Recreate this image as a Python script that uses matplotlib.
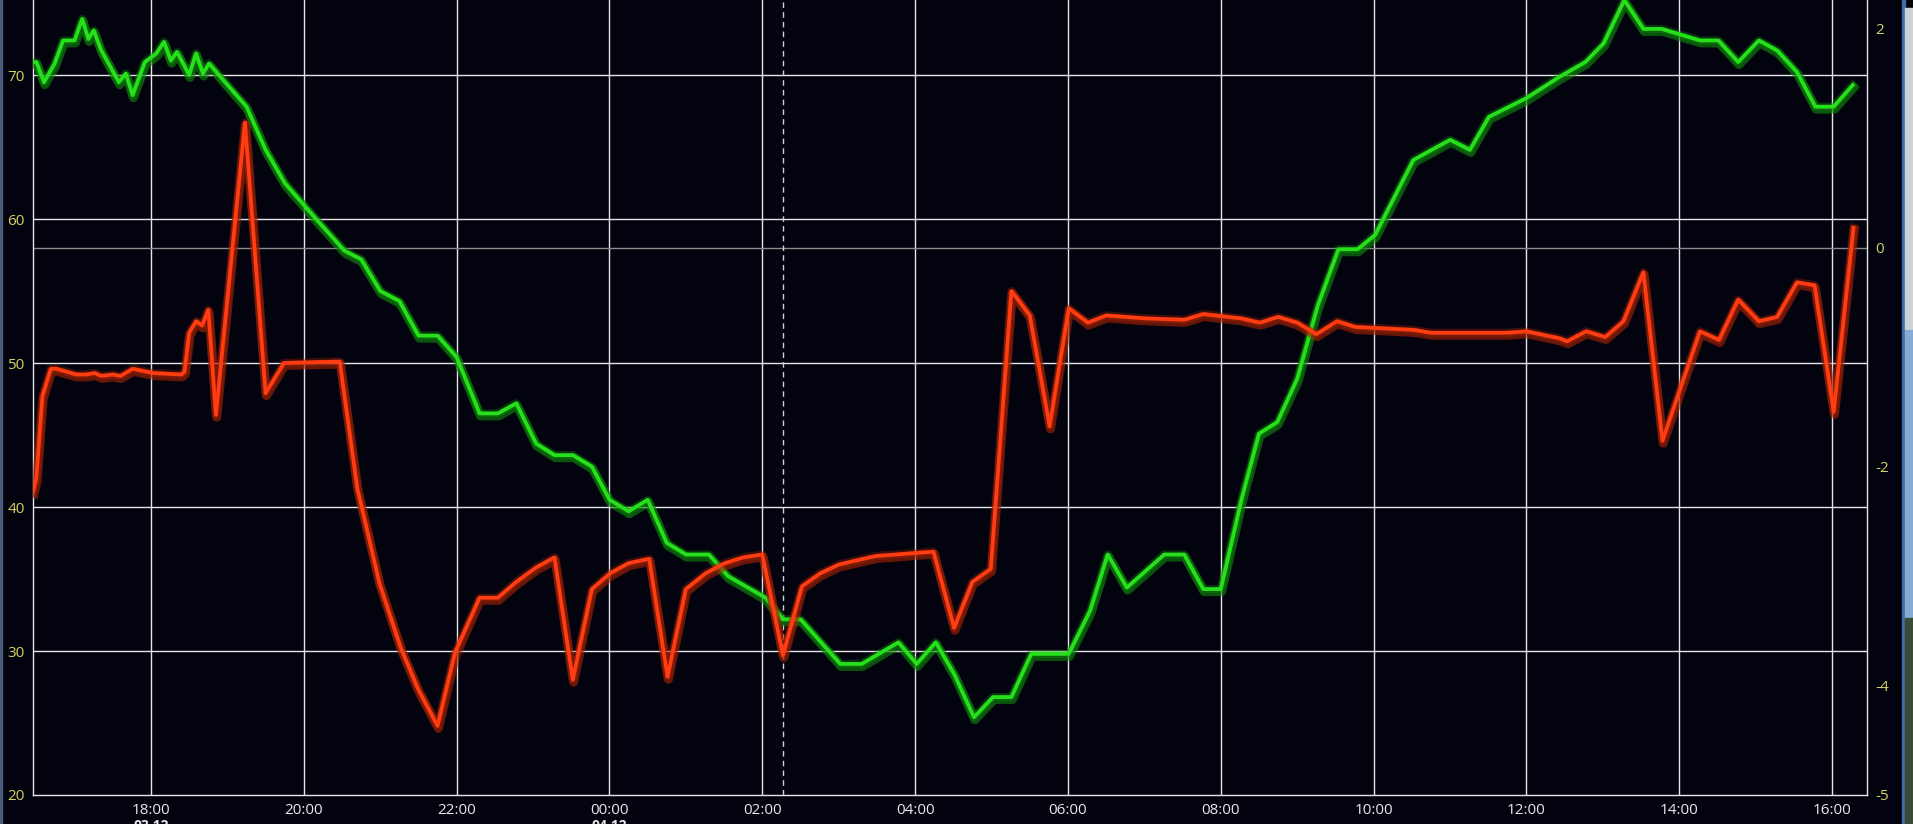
import matplotlib
matplotlib.use("Agg")
import matplotlib.pyplot as plt
import matplotlib.patheffects as pe
from matplotlib.patches import Rectangle

# ---------------- data (hours since 00:00 on 03.12) ----------------
green_t = [16.46, 16.50, 16.60, 16.74, 16.85, 17.00, 17.10, 17.18, 17.25, 17.35,
           17.58, 17.67, 17.76, 17.92, 18.07, 18.17, 18.26, 18.34, 18.50, 18.59,
           18.68, 18.76, 18.92, 19.25, 19.50, 19.75, 20.16, 20.53, 20.75, 21.00,
           21.25, 21.50, 21.75, 22.00, 22.30, 22.54, 22.78, 23.04, 23.28, 23.52,
           23.77, 24.00, 24.25, 24.50, 24.75, 25.00, 25.30, 25.55, 26.04, 26.27,
           26.50, 27.02, 27.30, 27.78, 28.02, 28.27, 28.51, 28.77, 29.02, 29.26,
           29.52, 30.01, 30.29, 30.52, 30.77, 31.26, 31.52, 31.77, 32.00, 32.27,
           32.50, 32.74, 33.00, 33.27, 33.54, 33.79, 34.02, 34.52, 35.00, 35.26,
           35.51, 36.00, 36.44, 36.77, 37.01, 37.28, 37.53, 37.77, 38.27, 38.51,
           38.77, 39.04, 39.28, 39.54, 39.78, 40.02, 40.27]
green_v = [70.9, 70.9, 69.5, 70.8, 72.4, 72.4, 73.9, 72.5, 73.1, 71.7,
           69.5, 70.1, 68.6, 70.9, 71.5, 72.3, 71.0, 71.6, 70.0, 71.5,
           70.1, 70.8, 69.8, 67.8, 64.8, 62.5, 60.0, 57.8, 57.2, 55.0,
           54.3, 51.9, 51.9, 50.4, 46.5, 46.5, 47.2, 44.4, 43.6, 43.6,
           42.8, 40.5, 39.7, 40.5, 37.5, 36.7, 36.7, 35.2, 33.7, 32.2,
           32.2, 29.1, 29.1, 30.6, 29.1, 30.6, 28.4, 25.4, 26.8, 26.8,
           29.8, 29.8, 32.8, 36.7, 34.4, 36.7, 36.7, 34.3, 34.3, 40.5,
           45.1, 45.9, 48.9, 54.0, 57.9, 57.9, 58.9, 64.1, 65.5, 64.8,
           67.1, 68.4, 69.9, 70.9, 72.2, 75.2, 73.2, 73.2, 72.4, 72.4,
           70.9, 72.4, 71.7, 70.2, 67.8, 67.8, 69.3]

red_t = [16.46, 16.50, 16.58, 16.69, 16.76, 16.89, 17.02, 17.15, 17.26, 17.35,
         17.50, 17.60, 17.76, 18.03, 18.40, 18.44, 18.50, 18.59, 18.67, 18.75,
         18.85, 19.23, 19.50, 19.74, 20.47, 20.70, 20.99, 21.27, 21.50, 21.75,
         21.98, 22.30, 22.54, 22.78, 23.04, 23.28, 23.52, 23.77, 24.01, 24.25,
         24.52, 24.76, 25.00, 25.26, 25.51, 25.75, 26.00, 26.27, 26.52, 26.76,
         27.00, 27.24, 27.49, 27.75, 27.99, 28.24, 28.51, 28.75, 28.99, 29.26,
         29.50, 29.76, 30.01, 30.26, 30.50, 31.00, 31.52, 31.77, 32.26, 32.51,
         32.75, 33.00, 33.25, 33.52, 33.76, 34.52, 34.75, 35.26, 35.75, 36.00,
         36.44, 36.53, 36.78, 37.03, 37.27, 37.53, 37.78, 38.27, 38.52, 38.77,
         39.04, 39.28, 39.54, 39.77, 40.02, 40.28]
red_v = [41.1, 42.0, 47.7, 49.6, 49.6, 49.4, 49.2, 49.2, 49.3, 49.1,
         49.2, 49.1, 49.6, 49.3, 49.2, 49.4, 52.1, 52.9, 52.6, 53.7,
         46.4, 66.7, 47.9, 50.0, 50.1, 41.3, 34.7, 30.2, 27.3, 24.8,
         29.9, 33.7, 33.7, 34.8, 35.8, 36.5, 28.0, 34.3, 35.4, 36.1,
         36.4, 28.2, 34.3, 35.4, 36.1, 36.5, 36.7, 29.7, 34.5, 35.4,
         36.0, 36.3, 36.6, 36.7, 36.8, 36.9, 31.6, 34.8, 35.7, 55.0,
         53.3, 45.6, 53.8, 52.8, 53.3, 53.1, 53.0, 53.4, 53.1, 52.8,
         53.2, 52.8, 52.0, 52.9, 52.5, 52.3, 52.1, 52.1, 52.1, 52.2,
         51.7, 51.5, 52.2, 51.8, 52.9, 56.3, 44.6, 52.2, 51.6, 54.4,
         52.9, 53.2, 55.6, 55.4, 46.6, 59.4]

left_ticks = [20, 30, 40, 50, 60, 70]
right_ticks = [-5, -4, -2, 0, 2]
x_ticks = [18, 20, 22, 24, 26, 28, 30, 32, 34, 36, 38, 40]
x_labels = ["18:00", "20:00", "22:00", "00:00", "02:00", "04:00",
            "06:00", "08:00", "10:00", "12:00", "14:00", "16:00"]
date_ticks = [18, 24]
date_labels = ["03.12", "04.12"]
cursor_t = 26.27

# ---------------- style ----------------
BG = "#03030f"
GRID = "#e6e6e6"
YCOL = "#d2d266"
XCOL = "#e8e8e8"
plt.rcParams['font.family'] = ['Open Sans', 'DejaVu Sans']

W, H = 1913, 824
fig = plt.figure(figsize=(W / 100, H / 100), dpi=100, facecolor=BG)
ax = fig.add_axes([33 / W, (H - 795) / H, (1867 - 33) / W, 795 / H])
ax.set_facecolor(BG)
ax.set_xlim(16.456, 40.456)
ax.set_ylim(20, 75.21)

for y in left_ticks[1:]:
    ax.axhline(y, color=GRID, lw=1.0, zorder=1)
for x in x_ticks:
    ax.axvline(x, color=GRID, lw=1.0, zorder=1)
ax.axhline(58.0, color="#8a8a8a", lw=1.0, zorder=1)
ax.axvline(cursor_t, color="#d0d0d0", lw=1.0, ls=(0, (4, 3)), zorder=1)


def glow_line(t, v, core, glow):
    ax.plot(t, v, color=core, lw=2.7, solid_joinstyle='round', zorder=3,
            path_effects=[pe.SimpleLineShadow(offset=(0.6, -1.8), shadow_color=glow,
                                              alpha=0.6, linewidth=6.5),
                          pe.Stroke(linewidth=6.0, foreground=glow, alpha=0.35),
                          pe.Normal()])


glow_line(green_t, green_v, "#27e01c", "#0f8a0a")
glow_line(red_t, red_v, "#ff3c12", "#a82405")

for s in ['left', 'bottom', 'right']:
    ax.spines[s].set_color(GRID)
    ax.spines[s].set_linewidth(1.0)
ax.spines['top'].set_visible(False)

ax.set_yticks(left_ticks)
ax.set_yticklabels([str(v) for v in left_ticks])
ax.tick_params(axis='y', length=0, pad=6, labelcolor=YCOL, labelsize=11)
ax.set_xticks(x_ticks)
ax.set_xticklabels(x_labels)
ax.tick_params(axis='x', length=0, pad=6, labelcolor=XCOL, labelsize=11)

for t, lab in zip(date_ticks, date_labels):
    ax.annotate(lab, xy=(t, 0), xycoords=('data', 'axes fraction'),
                xytext=(0, -17), textcoords='offset points', ha='center', va='top',
                color=XCOL, fontsize=10, fontweight='bold', annotation_clip=False)

ax2 = ax.twinx()
ax2.set_ylim(-5, 2.262)
ax2.set_yticks(right_ticks)
ax2.set_yticklabels([str(v) for v in right_ticks])
ax2.tick_params(axis='y', length=0, pad=6, labelcolor=YCOL, labelsize=11)
for s in ax2.spines.values():
    s.set_visible(False)

# desktop edge at right / left
fig.patches.append(Rectangle((1902 / W, 0), 3 / W, 1, transform=fig.transFigure,
                             color="#3f6fa6", zorder=0))
fig.patches.append(Rectangle((1905 / W, 0.6), 8 / W, 0.39, transform=fig.transFigure,
                             color="#cfd2d6", zorder=0))
fig.patches.append(Rectangle((1905 / W, 0.25), 8 / W, 0.35, transform=fig.transFigure,
                             color="#86acd4", zorder=0))
fig.patches.append(Rectangle((1905 / W, 0.0), 8 / W, 0.25, transform=fig.transFigure,
                             color="#3c4a3a", zorder=0))
fig.patches.append(Rectangle((0, 0), 2 / W, 1, transform=fig.transFigure,
                             color="#4a5a78", zorder=0))

fig.savefig("out.png", dpi=100, facecolor=BG)
